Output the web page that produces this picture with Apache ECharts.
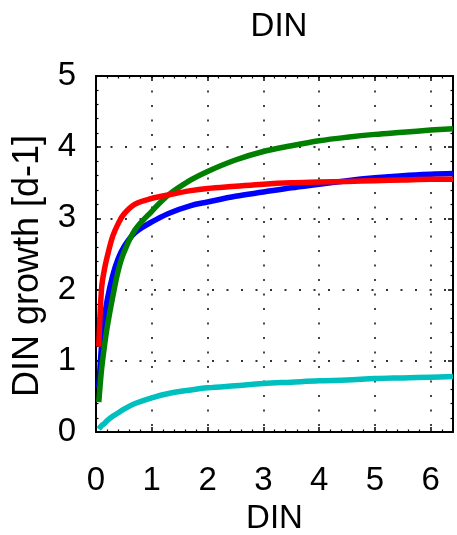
<!DOCTYPE html>
<html>
<head>
<meta charset="utf-8">
<script src="https://cdn.jsdelivr.net/npm/echarts@6/dist/echarts.min.js"></script>
<style>
html,body{margin:0;padding:0;background:#fff;}
#chart{width:457px;height:535px;}
</style>
</head>
<body>
<div id="chart"></div>
<script>
var titleText = 'DIN';
var xName = 'DIN';
var yName = 'DIN growth [d-1]';
var xTicks = [0, 1, 2, 3, 4, 5, 6];
var yTicks = [0, 1, 2, 3, 4, 5];
var din = [0.05, 0.1, 0.15, 0.2, 0.3, 0.4, 0.5, 0.7, 1.0, 1.3, 1.7, 2.0, 2.5, 3.0, 3.5, 4.0, 4.5, 5.0, 5.5, 6.0, 6.4];
var cyanVals  = [0.04, 0.09, 0.12, 0.16, 0.22, 0.27, 0.32, 0.40, 0.48, 0.54, 0.59, 0.62, 0.65, 0.68, 0.70, 0.72, 0.73, 0.75, 0.76, 0.77, 0.78];
var blueVals  = [0.62, 1.22, 1.58, 1.85, 2.20, 2.44, 2.60, 2.80, 2.95, 3.07, 3.18, 3.23, 3.31, 3.37, 3.43, 3.48, 3.53, 3.57, 3.60, 3.62, 3.63];
var greenVals = [0.42, 0.88, 1.20, 1.47, 1.90, 2.27, 2.52, 2.84, 3.10, 3.33, 3.54, 3.66, 3.82, 3.94, 4.02, 4.09, 4.14, 4.18, 4.21, 4.24, 4.26];
var redVals   = [1.20, 2.02, 2.28, 2.46, 2.75, 2.93, 3.06, 3.20, 3.28, 3.33, 3.39, 3.42, 3.45, 3.48, 3.50, 3.51, 3.52, 3.53, 3.54, 3.55, 3.55];

function pairs(ys){ return din.map(function(x,i){ return [x, ys[i]]; }); }

var FONT = 'Liberation Sans';
var chart = echarts.init(document.getElementById('chart'));
var gridLine = {show:true, lineStyle:{color:'#333', width:1.8, type:[2,12.5]}};
function axisBase(extra){
  var o = {
    type:'value',
    axisLine:{show:true, onZero:false, lineStyle:{color:'#000', width:2}},
    axisTick:{show:true, inside:true, length:5, lineStyle:{color:'#000', width:1.5}},
    minorTick:{show:true, splitNumber:5, length:2.5, lineStyle:{color:'#000', width:1.2}},
    axisLabel:{show:false},
    splitLine:{show:false}
  };
  for (var k in extra) o[k] = extra[k];
  return o;
}
function lineSeries(vals, color){
  return {type:'line', data:pairs(vals), showSymbol:false, smooth:0.35,
    lineStyle:{color:color, width:5.5, cap:'butt', join:'round'}};
}
var option = {
  animation:false,
  backgroundColor:'#fff',
  title:{text:titleText, left:274, top:5, textAlign:'center',
    textStyle:{fontFamily:FONT, fontSize:33, fontWeight:'normal', color:'#000'}},
  grid:{left:96, right:4, top:76, bottom:103, containLabel:false, outerBoundsMode:'none'},
  xAxis:[
    axisBase({position:'bottom', min:0, max:6.4, interval:1,
      name:xName, nameLocation:'middle', nameGap:70,
      nameTextStyle:{fontFamily:FONT, fontSize:33, color:'#000'},
      axisLabel:{show:true, margin:32, fontFamily:FONT, fontSize:33, color:'#000', showMaxLabel:false,
        formatter:function(v){ return xTicks.indexOf(v) >= 0 ? String(v) : ''; }},
      splitLine:gridLine}),
    axisBase({position:'top', min:0, max:6.4, interval:1})
  ],
  yAxis:[
    axisBase({position:'left', min:0, max:5, interval:1,
      name:yName, nameLocation:'middle', nameGap:50, nameRotate:90,
      nameTextStyle:{fontFamily:FONT, fontSize:36, color:'#000', padding:[0, 24, 0, 0]},
      axisLabel:{show:true, margin:20, fontFamily:FONT, fontSize:33, color:'#000',
        formatter:function(v){ return yTicks.indexOf(v) >= 0 ? String(v) : ''; }},
      splitLine:gridLine}),
    axisBase({position:'right', min:0, max:5, interval:1})
  ],
  series:[
    lineSeries(cyanVals, '#00bfbf'),
    lineSeries(blueVals, '#0000ff'),
    lineSeries(greenVals, '#007f00'),
    lineSeries(redVals, '#ff0000')
  ]
};
chart.setOption(option);
</script>
</body>
</html>
